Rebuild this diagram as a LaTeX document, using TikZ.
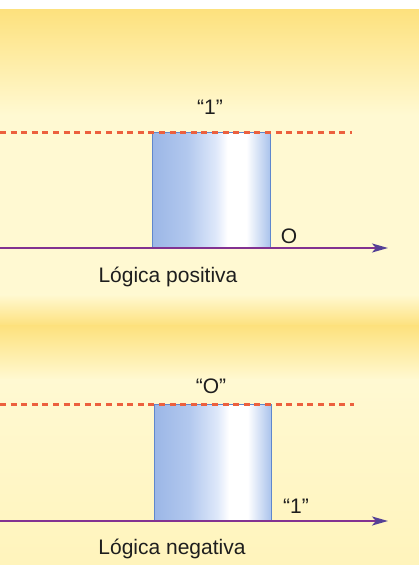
\documentclass[tikz,border=0pt]{standalone}
\usepackage{fontspec}
\setmainfont{Liberation Sans}
\usetikzlibrary{arrows.meta}
\definecolor{ylDeep}{RGB}{253,225,125}
\definecolor{ylPale}{RGB}{255,249,210}
\definecolor{ylLow}{RGB}{255,244,188}
\definecolor{bxA}{RGB}{155,182,230}
\definecolor{bxB}{RGB}{178,200,238}
\definecolor{bxD}{RGB}{222,232,250}
\definecolor{bxC}{RGB}{170,195,236}
\definecolor{bxEdge}{RGB}{95,135,205}
\definecolor{dashCol}{RGB}{236,96,62}
\definecolor{axisCol}{RGB}{130,50,145}
\definecolor{tipCol}{RGB}{85,65,150}
\definecolor{txtCol}{RGB}{30,30,30}
\pgfdeclarehorizontalshading{boxshade}{100bp}{color(0bp)=(bxA); color(25bp)=(bxA); color(40bp)=(bxB); color(52bp)=(bxD); color(57bp)=(white); color(65bp)=(white); color(75bp)=(bxC); color(100bp)=(bxC)}
\tikzset{
  lbl/.style={font=\fontsize{21}{25}\selectfont, text=txtCol, inner sep=0pt, anchor=base},
  dashline/.style={draw=dashCol, line width=2.2pt, dash pattern=on 6pt off 4.6pt},
  axisline/.style={draw=axisCol, line width=2.2pt, -{Stealth[length=16pt,width=9pt,inset=4pt,color=tipCol,fill=tipCol]}},
  pulse/.style={shading=boxshade, draw=bxEdge, line width=0.9pt}
}
\begin{document}
\begin{tikzpicture}[x=1pt,y=-1pt]
\useasboundingbox (0,0) rectangle (419,565);
% background
\fill[white] (0,0) rectangle (419,9);
\shade[top color=ylDeep, bottom color=ylPale] (0,9) rectangle (419,115);
\fill[ylPale] (0,114.5) rectangle (419,295);
\shade[top color=ylPale, bottom color=ylDeep] (0,294.5) rectangle (419,326);
\shade[top color=ylDeep, bottom color=ylPale] (0,325.5) rectangle (419,380);
\shade[top color=ylPale, bottom color=ylLow] (0,379.5) rectangle (419,565);

% top panel: positive logic
\coordinate (d1a) at (0,132.5);
\coordinate (d1b) at (352,132.5);
\shade[pulse] (152,132.5) rectangle (270,248);
\draw[dashline] (d1a) -- (d1b);
\coordinate (a1a) at (0,248);
\coordinate (a1b) at (388,248);
\draw[axisline] (a1a) -- (a1b);
\node[lbl] (hi1) at (210,114) {“1”};
\node[lbl] (lo1) at (289,243) {O};
\node[lbl] (cap1) at (168,282) {Lógica positiva};

% bottom panel: negative logic
\coordinate (d2a) at (0,404.5);
\coordinate (d2b) at (354,404.5);
\shade[pulse] (154,404.5) rectangle (271,521);
\draw[dashline] (d2a) -- (d2b);
\coordinate (a2a) at (0,521);
\coordinate (a2b) at (388,521);
\draw[axisline] (a2a) -- (a2b);
\node[lbl] (hi2) at (211,393) {“O”};
\node[lbl] (lo2) at (296,513) {“1”};
\node[lbl] (cap2) at (172,554) {Lógica negativa};
\end{tikzpicture}
\end{document}
